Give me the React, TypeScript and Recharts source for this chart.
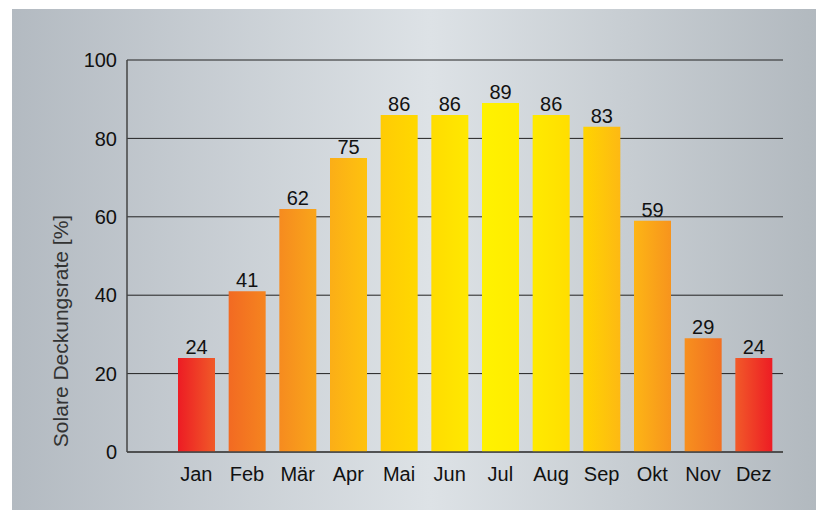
import React from 'react';
import { BarChart, Bar, XAxis, YAxis, CartesianGrid, Cell, LabelList } from 'recharts';

const months = ['Jan', 'Feb', 'Mär', 'Apr', 'Mai', 'Jun', 'Jul', 'Aug', 'Sep', 'Okt', 'Nov', 'Dez'];
const coverage = [24, 41, 62, 75, 86, 86, 89, 86, 83, 59, 29, 24];
const yTicks = [0, 20, 40, 60, 80, 100];

// left -> right colour of each bar's gradient
const barColors = [
  ['#ED1C24', '#F05A28'],
  ['#F26A22', '#F5841F'],
  ['#F68B1F', '#F9A51A'],
  ['#FBAE17', '#FEC20E'],
  ['#FFCB05', '#FFD800'],
  ['#FFDC00', '#FFE800'],
  ['#FFF200', '#FFEC00'],
  ['#FFEA00', '#FFDE00'],
  ['#FFD400', '#FDB913'],
  ['#FDB515', '#F7941D'],
  ['#F7901E', '#F26F21'],
  ['#F15A29', '#ED1C24'],
];

const data = months.map((m, i) => ({ month: m, value: coverage[i] }));

const font = '"Liberation Sans", Arial, Helvetica, sans-serif';

const YTitle = () => (
  <text
    x={68}
    y={331}
    transform="rotate(-90, 68, 331)"
    textAnchor="middle"
    fill="#333"
    fontSize={21}
    fontFamily={font}
  >
    Solare Deckungsrate [%]
  </text>
);

export default function App() {
  return (
    <div style={{ position: 'absolute', left: 0, top: 0, width: 821, height: 510, background: '#fff' }}>
      <svg width={0} height={0} style={{ position: 'absolute' }}>
        <defs>
          {barColors.map((c, i) => (
            <linearGradient key={i} id={`bar${i}`} x1="0" y1="0" x2="1" y2="0">
              <stop offset="0%" stopColor={c[0]} />
              <stop offset="100%" stopColor={c[1]} />
            </linearGradient>
          ))}
        </defs>
      </svg>
      <div
        style={{
          position: 'absolute',
          left: 12,
          top: 9,
          width: 804,
          height: 501,
          background: 'linear-gradient(to right, #b3bac1 0%, #dde2e6 52%, #b2b9bf 100%)',
        }}
      />
      <div style={{ position: 'absolute', left: 0, top: 0 }}>
        <BarChart
          width={821}
          height={510}
          data={data}
          margin={{ top: 60, right: 38, bottom: 28, left: 0 }}
          barSize={37}
          style={{ fontFamily: font }}
        >
          <CartesianGrid vertical={false} stroke="#222" strokeWidth={1} />
          <XAxis
            dataKey="month"
            height={30}
            padding={{ left: 44, right: 4 }}
            tickLine={false}
            tickSize={13}
            tickMargin={2}
            axisLine={{ stroke: '#444', strokeWidth: 1.5 }}
            tick={{ fill: '#111', fontSize: 20 }}
            interval={0}
          />
          <YAxis
            width={127}
            domain={[0, 100]}
            ticks={yTicks}
            tickLine={false}
            tickSize={8}
            tickMargin={2}
            axisLine={{ stroke: '#444', strokeWidth: 1.5 }}
            tick={{ fill: '#111', fontSize: 20 }}
            label={{ content: () => <YTitle /> }}
          />
          <YAxis
            yAxisId="r"
            orientation="right"
            width={0}
            tick={false}
            tickLine={false}
            axisLine={{ stroke: '#555', strokeWidth: 1.5 }}
          />
          <Bar dataKey="value" isAnimationActive={false}>
            {data.map((d, i) => (
              <Cell key={d.month} fill={`url(#bar${i})`} />
            ))}
            <LabelList dataKey="value" position="top" offset={4} fill="#111" fontSize={20} />
          </Bar>
        </BarChart>
      </div>
    </div>
  );
}
